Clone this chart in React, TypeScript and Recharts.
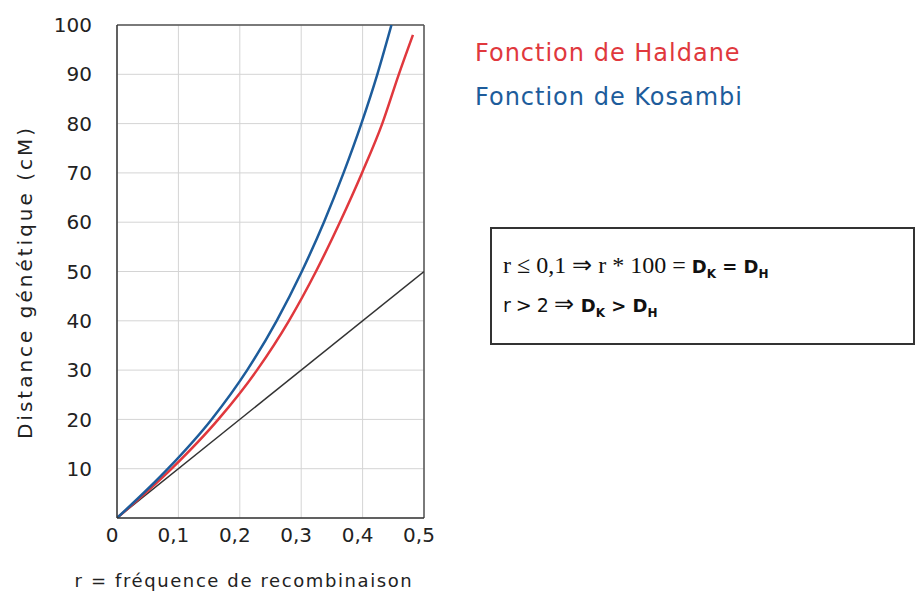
import React from "react";
import { LineChart, Line, XAxis, YAxis, CartesianGrid, ReferenceLine } from "recharts";

// Recombination frequency (r) and genetic distance (cM)
const kosambiR = [0, 0.083, 0.154, 0.212, 0.26, 0.301, 0.337, 0.369, 0.398, 0.424, 0.447];
const kosambiD = [0, 10, 20, 30, 40, 50, 60, 70, 80, 90, 100];
const haldaneR = [0, 0.089, 0.165, 0.228, 0.28, 0.324, 0.363, 0.399, 0.432, 0.459, 0.482];
const haldaneD = [0, 10, 20, 30, 40, 50, 60, 70, 80, 90, 98];
const linearR = [0, 0.5];
const linearD = [0, 50];
const xTicks = [0, 0.1, 0.2, 0.3, 0.4, 0.5];
const yTicks = [10, 20, 30, 40, 50, 60, 70, 80, 90, 100];

const toPoints = (rs: number[], ds: number[]) => rs.map((r, i) => ({ r, d: ds[i] }));
const kosambiData = toPoints(kosambiR, kosambiD);
const haldaneData = toPoints(haldaneR, haldaneD);
const linearData = toPoints(linearR, linearD);

const FONT = '"Comic Sans MS", "DejaVu Sans", sans-serif';
const SERIF = '"Liberation Serif", "Times New Roman", serif';
const RED = "#e0383d";
const BLUE = "#1d5c9b";

const fmtX = (v: number) => (v === 0 ? "0" : v.toFixed(1).replace(".", ","));

export default function App() {
  return (
    <div style={{ position: "absolute", left: 0, top: 0, width: 918, height: 592, background: "#fff", fontFamily: FONT }}>
      <LineChart
        width={918}
        height={592}
        margin={{ top: 25, right: 494, bottom: 0, left: 57 }}
      >
        <CartesianGrid stroke="#d4d4d4" strokeWidth={1} />
        <XAxis
          type="number"
          dataKey="r"
          domain={[0, 0.5]}
          ticks={xTicks}
          tickFormatter={fmtX}
          height={74}
          tickSize={0}
          tickMargin={10}
          axisLine={{ stroke: "#333", strokeWidth: 1.5 }}
          tick={{ fontSize: 20, fill: "#222", fontFamily: FONT, dx: -5 }}
          allowDataOverflow
        />
        <YAxis
          type="number"
          dataKey="d"
          domain={[0, 100]}
          ticks={yTicks}
          width={60}
          tickSize={0}
          tickMargin={25}
          axisLine={{ stroke: "#333", strokeWidth: 1.5 }}
          tick={{ fontSize: 20, fill: "#222", fontFamily: FONT }}
          allowDataOverflow
        />
        <ReferenceLine y={100} stroke="#555" strokeWidth={1.5} />
        <ReferenceLine x={0.5} stroke="#555" strokeWidth={1.5} />
        <Line data={linearData} dataKey="d" type="linear" stroke="#333" strokeWidth={1.5} dot={false} isAnimationActive={false} />
        <Line data={haldaneData} dataKey="d" type="monotone" stroke={RED} strokeWidth={2.5} dot={false} isAnimationActive={false} />
        <Line data={kosambiData} dataKey="d" type="monotone" stroke={BLUE} strokeWidth={2.5} dot={false} isAnimationActive={false} />
      </LineChart>

      {/* Axis titles */}
      <div style={{ position: "absolute", left: 244, top: 580, transform: "translate(-50%, -50%)", fontSize: 18, letterSpacing: 1.6, whiteSpace: "nowrap", color: "#222" }}>
        r = fréquence de recombinaison
      </div>
      <div style={{ position: "absolute", left: 25, top: 282, transform: "translate(-50%, -50%) rotate(-90deg)", fontSize: 20, letterSpacing: 3, whiteSpace: "nowrap", color: "#222" }}>
        Distance génétique (cM)
      </div>

      {/* Legend */}
      <div style={{ position: "absolute", left: 475, top: 38, fontSize: 24, letterSpacing: 1, whiteSpace: "nowrap", color: RED, lineHeight: "30px" }}>
        Fonction de Haldane
      </div>
      <div style={{ position: "absolute", left: 475, top: 82, fontSize: 24, letterSpacing: 1, whiteSpace: "nowrap", color: BLUE, lineHeight: "30px" }}>
        Fonction de Kosambi
      </div>

      {/* Box */}
      <div style={{ position: "absolute", left: 490, top: 227, width: 421, height: 114, border: "2px solid #333" }}>
        <div style={{ position: "absolute", left: 11, top: 22, whiteSpace: "nowrap", color: "#111", lineHeight: "28px" }}>
          <span style={{ fontFamily: SERIF, fontSize: 24 }}>r ≤ 0,1 ⇒ r * 100 = </span>
          <span style={{ fontFamily: FONT, fontWeight: "bold", fontSize: 18 }}>
            D<sub style={{ fontSize: 12 }}>K</sub> = D<sub style={{ fontSize: 12 }}>H</sub>
          </span>
        </div>
        <div style={{ position: "absolute", left: 11, top: 61, whiteSpace: "nowrap", color: "#111", lineHeight: "28px" }}>
          <span style={{ fontFamily: FONT, fontSize: 19, letterSpacing: -0.5 }}>r &gt; 2</span>
          <span style={{ fontFamily: SERIF, fontSize: 24 }}> ⇒</span>
          <span style={{ fontFamily: FONT, fontWeight: "bold", fontSize: 18 }}>
            {" "}D<sub style={{ fontSize: 12 }}>K</sub> &gt; D<sub style={{ fontSize: 12 }}>H</sub>
          </span>
        </div>
      </div>
    </div>
  );
}
